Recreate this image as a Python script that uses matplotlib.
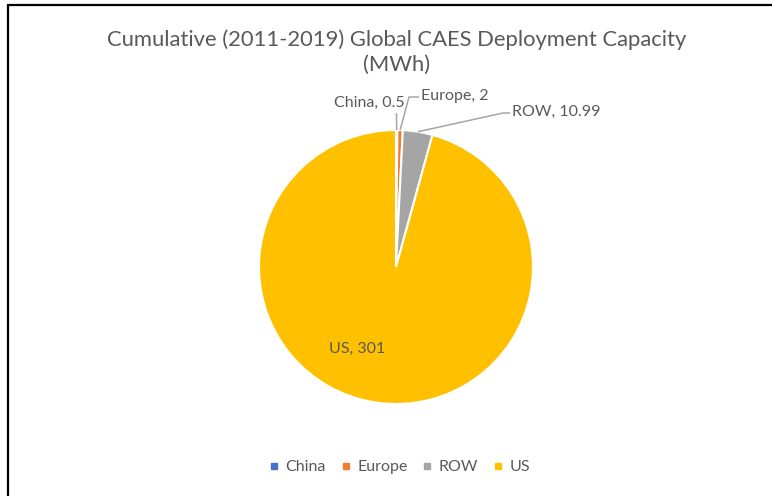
import numpy as np
import matplotlib
matplotlib.use("Agg")
from matplotlib import pyplot as plt
from matplotlib.patches import Rectangle
from matplotlib.lines import Line2D

plt.rcParams['font.family'] = ['Lato', 'DejaVu Sans']

regions = ["China", "Europe", "ROW", "US"]
capacity = [0.5, 2, 10.99, 301]
colors = ["#4472C4", "#ED7D31", "#A5A5A5", "#FFC000"]
title = "Cumulative (2011-2019) Global CAES Deployment Capacity\n(MWh)"

W, H = 772, 496
fig = plt.figure(figsize=(W / 100, H / 100), dpi=100)

# pie centre and radius in pixels
cx, cy, r = 396, 267, 137
ax = fig.add_axes([(cx - r) / W, (H - cy - r) / H, 2 * r / W, 2 * r / H])
wedges, _ = ax.pie(capacity, colors=colors, startangle=90, counterclock=False,
                   radius=1, wedgeprops=dict(edgecolor="white", linewidth=1.5))
ax.set_xlim(-1, 1)
ax.set_ylim(-1, 1)
ax.set_aspect("equal")
ax.axis("off")

def px(x, y):
    # pixel position -> data coords of the pie axes
    return (x - cx) / r, (cy - y) / r

# mid angle of each wedge, measured clockwise from 12 o'clock
total = sum(capacity)
cum = np.cumsum([0] + capacity)
mids = [np.radians(360 * (cum[i] + capacity[i] / 2) / total) for i in range(len(capacity))]

txt_color = "#595959"
line_color = "#A6A6A6"
fs = 11.5

def leader(i, elbow, end):
    ex, ey = np.sin(mids[i]) * 1.0, np.cos(mids[i]) * 1.0
    pts = [(ex, ey), px(*elbow), px(*end)]
    ax.plot([p[0] for p in pts], [p[1] for p in pts], color=line_color, lw=1.1,
            clip_on=False, solid_capstyle="butt")

fmt = lambda i: f"{regions[i]}, {capacity[i]:g}"

# China
leader(0, (396.5, 118), (396.5, 113))
ax.text(*px(405, 103), fmt(0), ha="right", va="center", fontsize=fs, color=txt_color)
# Europe
leader(1, (409, 97), (419, 97))
ax.text(*px(421, 96), fmt(1), ha="left", va="center", fontsize=fs, color=txt_color)
# ROW
leader(2, (503, 113), (510, 113))
ax.text(*px(512, 112), fmt(2), ha="left", va="center", fontsize=fs, color=txt_color)
# US, inside the slice
ax.text(*px(357, 349), fmt(3), ha="center", va="center", fontsize=fs, color=txt_color)

fig.text(397 / W, 1 - 52 / H, title, ha="center", va="center", fontsize=15.8,
         color=txt_color, linespacing=1.3)

handles = [Line2D([], [], marker="s", linestyle="none", markersize=5,
                  markerfacecolor=c, markeredgecolor=c) for c in colors]
fig.legend(handles, regions, loc="center", bbox_to_anchor=(400 / W, 1 - 467 / H),
           ncol=4, frameon=False, fontsize=fs, labelcolor=txt_color,
           handlelength=0.5, handletextpad=0.45, columnspacing=1.0)

# chart area border (left and top edges visible)
fig.patches.append(Rectangle((8 / W, -0.1), 1.2, 1 - 5 / H + 0.1, transform=fig.transFigure,
                             fill=False, edgecolor="black", linewidth=1.6))

fig.savefig("out.png", dpi=100, facecolor="white")
